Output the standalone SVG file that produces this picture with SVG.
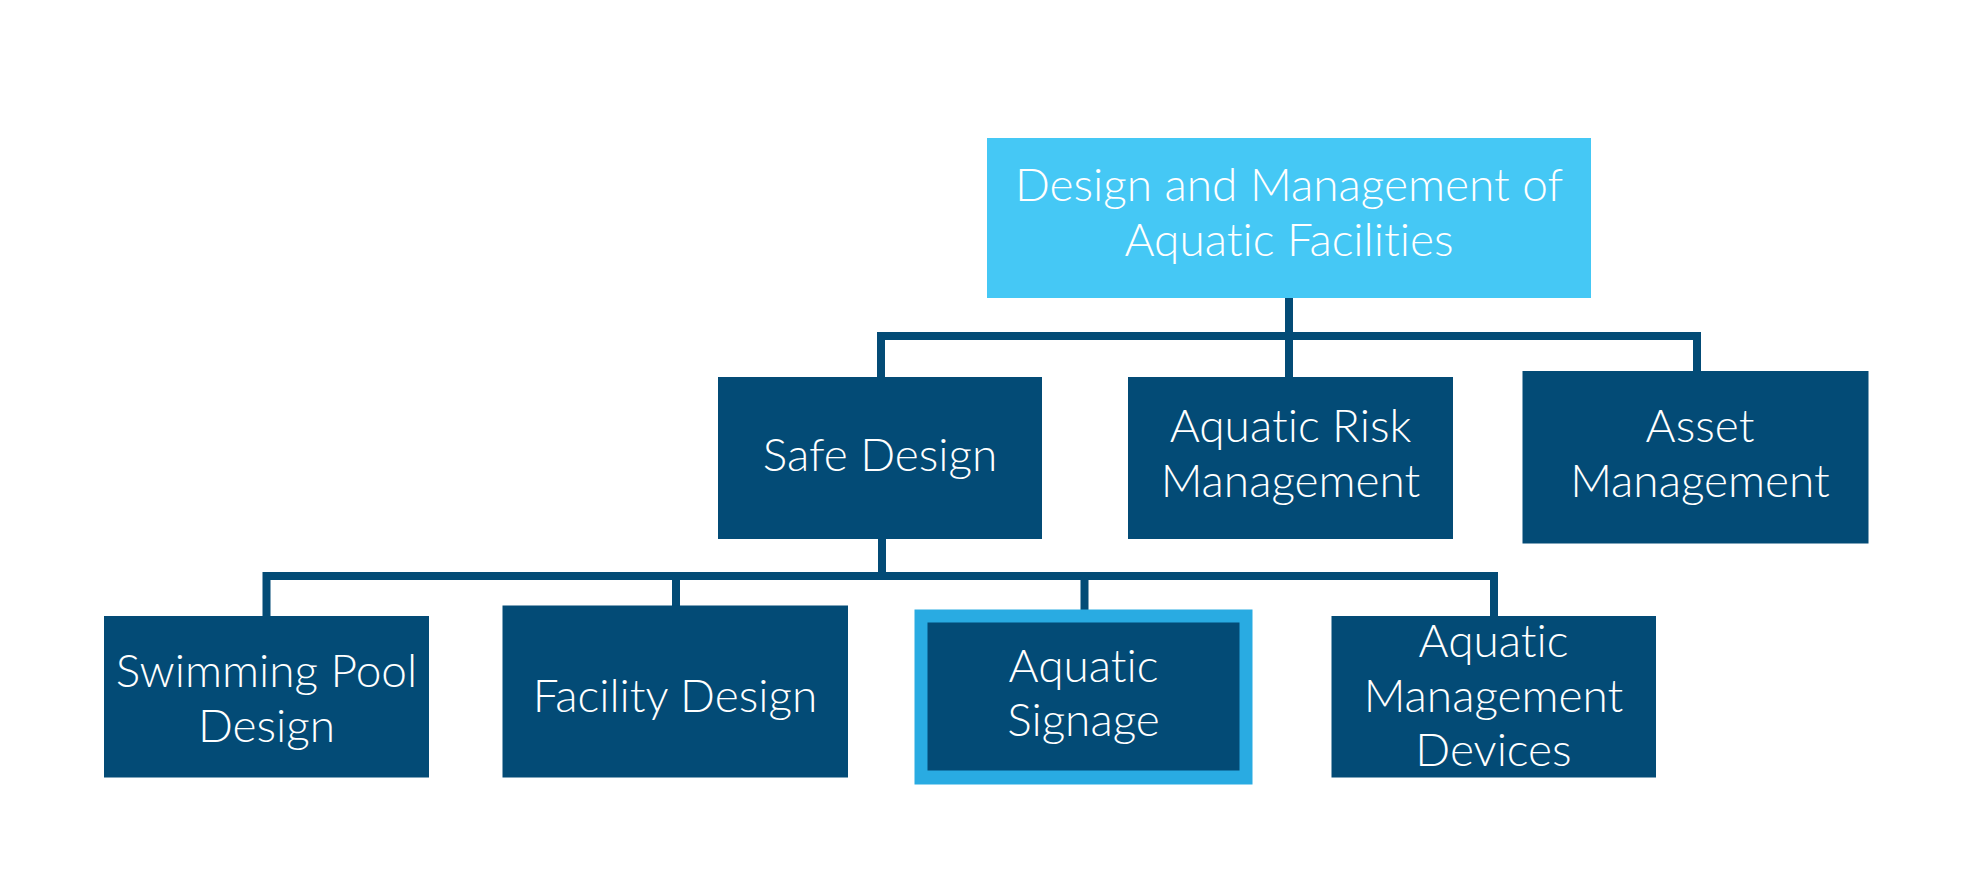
<svg xmlns="http://www.w3.org/2000/svg" width="1966" height="886" viewBox="0 0 1966 886">
  <style>
    .box { fill: #034b76; }
    .top { fill: #45c8f5; }
    .sel { fill: #29abe2; }
    .lbl { font-family: Lato, "Open Sans", "Liberation Sans", sans-serif; font-weight: 300; font-size: 46px; fill: #ffffff; text-anchor: middle; font-variant-ligatures: none; font-feature-settings: "liga" 0, "dlig" 0; }
    .conn { fill: none; stroke: #034b76; stroke-width: 8; stroke-linejoin: miter; stroke-linecap: butt; }
  </style>
  <rect width="1966" height="886" fill="#ffffff"/>
  <g id="connectors">
    <path class="conn" d="M881 377 V336 H1697 V371"/>
    <path class="conn" d="M1289 298 V377"/>
    <path class="conn" d="M266.5 616 V576 H1494 V616"/>
    <path class="conn" d="M882 539 V576"/>
    <path class="conn" d="M676 576 V606"/>
    <path class="conn" d="M1084.5 576 V610"/>
  </g>
  <g id="node-root">
    <rect class="top" x="987" y="138" width="604" height="160"/>
    <text class="lbl" x="1289" y="200.7">Design and Management of</text>
    <text class="lbl" x="1289" y="255.7">Aquatic Facilities</text>
  </g>
  <g id="node-safe-design">
    <rect class="box" x="718" y="377" width="324" height="162"/>
    <text class="lbl" x="880" y="470.7">Safe Design</text>
  </g>
  <g id="node-aquatic-risk">
    <rect class="box" x="1128" y="377" width="325" height="162"/>
    <text class="lbl" x="1290.5" y="441.7">Aquatic Risk</text>
    <text class="lbl" x="1290.5" y="497">Management</text>
  </g>
  <g id="node-asset">
    <rect class="box" x="1522.5" y="371" width="346" height="172.5"/>
    <text class="lbl" x="1700" y="441.7">Asset</text>
    <text class="lbl" x="1700" y="496.7">Management</text>
  </g>
  <g id="node-swimming-pool">
    <rect class="box" x="104" y="616" width="325" height="161.5"/>
    <text class="lbl" x="266.5" y="686.7">Swimming Pool</text>
    <text class="lbl" x="266.5" y="741.7">Design</text>
  </g>
  <g id="node-facility">
    <rect class="box" x="502.5" y="605.5" width="345.5" height="172"/>
    <text class="lbl" x="675" y="711.7">Facility Design</text>
  </g>
  <g id="node-signage">
    <rect class="sel" x="914.5" y="609.5" width="338" height="175"/>
    <rect class="box" x="927.5" y="622.5" width="312" height="148"/>
    <text class="lbl" x="1083.5" y="681.7">Aquatic</text>
    <text class="lbl" x="1083.5" y="736">Signage</text>
  </g>
  <g id="node-devices">
    <rect class="box" x="1331.5" y="616" width="324.5" height="161.5"/>
    <text class="lbl" x="1493.5" y="656.7">Aquatic</text>
    <text class="lbl" x="1493.5" y="711.7">Management</text>
    <text class="lbl" x="1493.5" y="766">Devices</text>
  </g>
</svg>
